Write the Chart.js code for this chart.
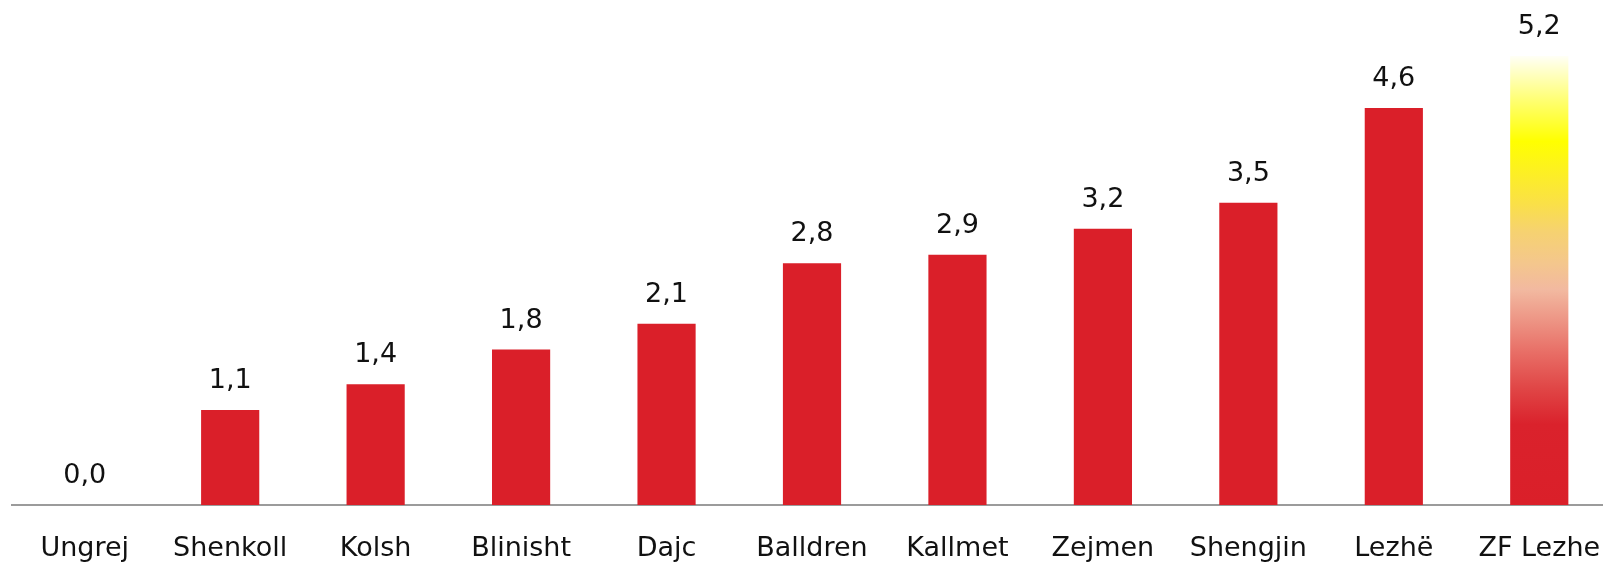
<!DOCTYPE html>
<html>
<head>
<meta charset="utf-8">
<script src="https://cdn.jsdelivr.net/npm/chart.js@4/dist/chart.umd.min.js"></script>
<style>
  html, body { margin: 0; padding: 0; background: #fff; overflow: hidden; }
  #wrap { width: 1612px; height: 565px; }
  #c { width: 1612px; height: 565px; display: block; }
</style>
</head>
<body>
<div id="wrap"><canvas id="c" width="1612" height="565"></canvas></div>
<script>
// Places along the axis and their values
const categories = ['Ungrej', 'Shenkoll', 'Kolsh', 'Blinisht', 'Dajc', 'Balldren', 'Kallmet', 'Zejmen', 'Shengjin', 'Lezhë', 'ZF Lezhe'];
const values = [0.0, 1.1, 1.4, 1.8, 2.1, 2.8, 2.9, 3.2, 3.5, 4.6, 5.2];

const RED = '#DA1F29';
const FONT = '"DejaVu Sans", "Liberation Sans", sans-serif';

// The last bar (the whole zone) fades from red through salmon and yellow to white
function zoneGradient(ctx) {
  const chart = ctx.chart;
  const y = chart.scales && chart.scales.y;
  if (!y) return RED;
  const bottom = y.getPixelForValue(0);
  const top = y.getPixelForValue(values[ctx.dataIndex]);
  if (!isFinite(bottom) || !isFinite(top) || bottom === top) return RED;
  const g = chart.ctx.createLinearGradient(0, bottom, 0, top);
  g.addColorStop(0.00, '#DA1F29');
  g.addColorStop(0.18, '#DA222C');
  g.addColorStop(0.26, '#E04646');
  g.addColorStop(0.34, '#E86E66');
  g.addColorStop(0.41, '#ED9484');
  g.addColorStop(0.48, '#F2B9A0');
  g.addColorStop(0.54, '#F4C78C');
  g.addColorStop(0.61, '#F6D270');
  g.addColorStop(0.67, '#FAE048');
  g.addColorStop(0.81, '#FFFF00');
  g.addColorStop(0.90, '#FFFF70');
  g.addColorStop(1.00, '#FFFFF6');
  return g;
}

// Value labels above each bar, decimal comma
const valueLabels = {
  id: 'valueLabels',
  afterDatasetsDraw(chart) {
    const ctx = chart.ctx;
    const meta = chart.getDatasetMeta(0);
    ctx.save();
    ctx.font = '27px ' + FONT;
    ctx.fillStyle = '#111';
    ctx.textAlign = 'center';
    ctx.textBaseline = 'alphabetic';
    meta.data.forEach((bar, i) => {
      const txt = values[i].toFixed(1).replace('.', ',');
      ctx.fillText(txt, bar.x, bar.y - 22);
    });
    ctx.restore();
  }
};

new Chart(document.getElementById('c'), {
  type: 'bar',
  data: {
    labels: categories,
    datasets: [{
      data: values,
      backgroundColor: (ctx) => ctx.dataIndex === values.length - 1 ? zoneGradient(ctx) : RED,
      borderWidth: 0,
      categoryPercentage: 1.0,
      barPercentage: 0.40
    }]
  },
  options: {
    responsive: false,
    animation: false,
    devicePixelRatio: 1,
    layout: { padding: { left: 12, right: 0, top: 0, bottom: 0 } },
    plugins: { legend: { display: false }, tooltip: { enabled: false } },
    scales: {
      x: {
        grid: { display: false, drawTicks: false },
        border: { display: true, color: '#9B9B9B', width: 2 },
        ticks: { color: '#111', font: { family: FONT, size: 27 }, padding: 28, maxRotation: 0, autoSkip: false },
        afterFit(scale) {
          // categories fill the full width; labels may sit near the edges
          scale.height = 60;
          scale.paddingLeft = 0;
          scale.paddingRight = 0;
        }
      },
      y: {
        display: false,
        min: 0,
        max: 5.85
      }
    }
  },
  plugins: [valueLabels]
});
</script>
</body>
</html>
